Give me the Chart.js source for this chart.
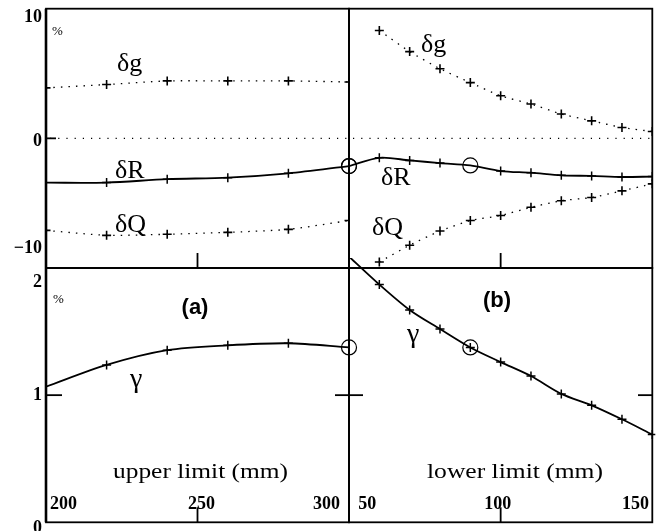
<!DOCTYPE html>
<html>
<head>
<meta charset="utf-8">
<script src="https://cdn.jsdelivr.net/npm/chart.js@4.4.1/dist/chart.umd.min.js"></script>
<style>
  html, body { margin: 0; padding: 0; background: #fff; }
  #wrap { position: relative; width: 661px; height: 531px; overflow: hidden; }
  #wrap canvas { position: absolute; left: 0; top: 0; }
</style>
</head>
<body>
<div id="wrap">
  <canvas id="tl" width="661" height="531"></canvas>
  <canvas id="tr" width="661" height="531"></canvas>
  <canvas id="bl" width="661" height="531"></canvas>
  <canvas id="br" width="661" height="531"></canvas>
</div>
<script>
// (a) upper limit scan, mm
const upperX = [200, 220, 240, 260, 280, 300];
const dgUpper = [3.89, 4.15, 4.43, 4.43, 4.43, 4.35];
const dRUpper = [-3.42, -3.41, -3.15, -3.03, -2.70, -2.14];
const dQUpper = [-7.10, -7.48, -7.40, -7.25, -7.02, -6.34];
const gammaUpper = [1.067, 1.238, 1.354, 1.392, 1.408, 1.375];

// (b) lower limit scan, mm
const lowerX = [40, 52, 64, 76, 88, 100, 112, 124, 136, 148, 160];
const dgLower = [null, 8.32, 6.69, 5.37, 4.30, 3.28, 2.65, 1.88, 1.35, 0.84, 0.53];
const dRLower = [-2.14, -1.50, -1.70, -1.91, -2.09, -2.52, -2.65, -2.85, -2.90, -2.98, -2.95];
const dQLower = [null, -9.54, -8.24, -7.15, -6.34, -5.95, -5.32, -4.81, -4.56, -4.05, -3.51];
const gammaLower = [2.09, 1.87, 1.67, 1.52, 1.375, 1.26, 1.15, 1.01, 0.92, 0.81, 0.69];

// chosen settings (circled points)
const upperChosen = [300];
const lowerChosen = [40, 88];

// axes
const upperRange = [200, 300];
const lowerRange = [40, 160];
const deltaRange = [-10, 10];
const gammaRange = [0, 2];
const upperTicks = ['200', '250', '300'];
const lowerTicks = ['50', '100', '150'];
const deltaTicks = ['10', '0', '-10'];
const gammaTicks = ['2', '1', '0'];

const W = 661, H = 531;
const L = 46, M = 349, R = 653, T = 6, MID = 268, B = 528;

const pts = (xs, ys) => xs.map((x, i) => ({ x, y: ys[i] }));
const pick = (xs, ys, keep) => pts(xs, ys).filter(p => keep.includes(p.x));

const SERIF = '"Liberation Serif", "DejaVu Serif", serif';

function solid(data, skip) {
  return {
    data, borderColor: '#000', borderWidth: 1.8, tension: 0.3, fill: false,
    pointStyle: 'cross', pointBorderColor: '#000', pointBorderWidth: 1.5,
    pointRadius: c => (skip.includes(c.dataIndex) ? 0 : 4.5),
  };
}
function dotted(data) {
  return {
    data, borderColor: '#000', borderWidth: 1.3, borderDash: [1.5, 6], tension: 0.2, fill: false,
    spanGaps: false, pointStyle: 'cross', pointBorderColor: '#000', pointBorderWidth: 1.6, pointRadius: 4.5,
  };
}
function rings(data) {
  return {
    data, showLine: false, pointStyle: 'circle', pointRadius: 7.5, pointBorderWidth: 1.2,
    pointBorderColor: '#000', pointBackgroundColor: 'rgba(0,0,0,0)', clip: false,
  };
}

function stretchText(ctx, str, x, y, width) {
  const w = ctx.measureText(str).width;
  ctx.save();
  ctx.translate(x, y);
  ctx.scale(width / w, 1);
  ctx.textAlign = 'left';
  ctx.fillText(str, 0, 0);
  ctx.restore();
}

// frame, ticks and text for one panel
function deco(cfg) {
  return {
    id: 'deco',
    afterDraw(chart) {
      const { ctx, chartArea: a, scales } = chart;
      ctx.save();
      ctx.strokeStyle = '#000';
      ctx.fillStyle = '#000';
      ctx.setLineDash([]);
      // frame
      ctx.lineWidth = 1.8;
      ctx.strokeRect(a.left, a.top, a.right - a.left, a.bottom - a.top);
      if (cfg.leftAxis) {
        ctx.lineWidth = 2.6;
        ctx.beginPath(); ctx.moveTo(a.left, a.top); ctx.lineTo(a.left, a.bottom); ctx.stroke();
      }
      if (cfg.zeroLine) {
        const y0 = scales.y.getPixelForValue(0);
        ctx.lineWidth = 1.2;
        ctx.setLineDash([1.2, 7]);
        ctx.beginPath(); ctx.moveTo(a.left + 4, y0); ctx.lineTo(a.right, y0); ctx.stroke();
        ctx.setLineDash([]);
      }
      ctx.lineWidth = 1.8;
      // x tick marks
      (cfg.xMarks || []).forEach(v => {
        const px = scales.x.getPixelForValue(v);
        ctx.beginPath(); ctx.moveTo(px, a.bottom); ctx.lineTo(px, a.bottom - 15); ctx.stroke();
      });
      // y tick marks
      (cfg.yMarks || []).forEach(m => {
        const py = scales.y.getPixelForValue(m.v);
        ctx.beginPath(); ctx.moveTo(m.x0, py); ctx.lineTo(m.x1, py); ctx.stroke();
      });
      // tick labels
      ctx.font = 'bold 18px ' + SERIF;
      ctx.textBaseline = 'middle';
      (cfg.xLabels || []).forEach(lb => {
        const px = scales.x.getPixelForValue(+lb.t);
        ctx.textAlign = lb.align || 'center';
        ctx.fillText(lb.t, px + lb.dx, 504);
      });
      (cfg.yLabels || []).forEach(lb => {
        const py = scales.y.getPixelForValue(+lb.t);
        ctx.textAlign = 'right';
        ctx.fillText(lb.t.replace('-', '\u2212'), 42, py + lb.dy);
      });
      // free text
      ctx.textBaseline = 'alphabetic';
      (cfg.texts || []).forEach(tx => {
        ctx.font = tx.font;
        if (tx.w) {
          stretchText(ctx, tx.t, tx.x, tx.y, tx.w);
        } else {
          ctx.textAlign = tx.align || 'left';
          ctx.fillText(tx.t, tx.x, tx.y);
        }
      });
      ctx.restore();
    }
  };
}

function panel(id, box, xr, yr, datasets, cfg) {
  return new Chart(document.getElementById(id), {
    type: 'line',
    data: { datasets },
    options: {
      responsive: false, animation: false, events: [],
      layout: { padding: { left: box[0], top: box[1], right: W - box[2], bottom: H - box[3] } },
      plugins: { legend: { display: false }, tooltip: { enabled: false } },
      scales: {
        x: { type: 'linear', display: false, min: xr[0], max: xr[1] },
        y: { type: 'linear', display: false, min: yr[0], max: yr[1] },
      },
    },
    plugins: [deco(cfg)],
  });
}

const big = '26px ' + SERIF;

panel('tl', [L, T, M, MID], upperRange, deltaRange, [
  dotted(pts(upperX, dgUpper)),
  solid(pts(upperX, dRUpper), [0, upperX.length - 1]),
  dotted(pts(upperX, dQUpper)),
  rings(pick(upperX, dRUpper, upperChosen)),
], {
  leftAxis: true, zeroLine: true,
  xMarks: [250],
  yMarks: [{ v: 0, x0: L, x1: L + 10 }],
  yLabels: [
    { t: deltaTicks[0], dy: 9 },
    { t: deltaTicks[1], dy: 3 },
    { t: deltaTicks[2], dy: -20 },
  ],
  texts: [
    { t: '%', x: 52, y: 35, font: '13px ' + SERIF },
    { t: 'δg', x: 117, y: 71, font: big },
    { t: 'δR', x: 115, y: 178, font: big },
    { t: 'δQ', x: 115, y: 232, font: big },
  ],
});

panel('tr', [M, T, R, MID], lowerRange, deltaRange, [
  dotted(pts(lowerX, dgLower)),
  solid(pts(lowerX, dRLower), [0, 4]),
  dotted(pts(lowerX, dQLower)),
  rings(pick(lowerX, dRLower, lowerChosen)),
], {
  zeroLine: true,
  xMarks: [100],
  texts: [
    { t: 'δg', x: 421, y: 52, font: big },
    { t: 'δR', x: 381, y: 185, font: big },
    { t: 'δQ', x: 372, y: 235, font: big },
  ],
});

panel('bl', [L, MID, M, B], upperRange, gammaRange, [
  solid(pts(upperX, gammaUpper), [0, upperX.length - 1]),
  rings(pick(upperX, gammaUpper, upperChosen)),
], {
  leftAxis: true,
  xMarks: [250],
  yMarks: [{ v: 1, x0: L, x1: L + 16 }, { v: 1, x0: M - 14, x1: M }],
  xLabels: [
    { t: upperTicks[0], dx: 4, align: 'left' },
    { t: upperTicks[1], dx: 4 },
    { t: upperTicks[2], dx: -9, align: 'right' },
  ],
  yLabels: [
    { t: gammaTicks[0], dy: 14 },
    { t: gammaTicks[1], dy: 0 },
    { t: gammaTicks[2], dy: 6 },
  ],
  texts: [
    { t: '%', x: 53, y: 303, font: '13px ' + SERIF },
    { t: '(a)', x: 195, y: 314, font: 'bold 22px "Liberation Sans", Arial, sans-serif', align: 'center' },
    { t: 'γ', x: 130, y: 387, font: '28px ' + SERIF },
    { t: 'upper limit (mm)', x: 113, y: 478, font: '21px ' + SERIF, w: 175 },
  ],
});

const brSet = solid(pts(lowerX, gammaLower), [0]);
brSet.clip = { left: 0, top: 10, right: 3, bottom: 0 };
panel('br', [M, MID, R, B], lowerRange, gammaRange, [
  brSet,
  rings(pick(lowerX, gammaLower, [lowerChosen[1]])),
], {
  xMarks: [100],
  yMarks: [{ v: 1, x0: M, x1: M + 14 }, { v: 1, x0: R - 15, x1: R }],
  xLabels: [
    { t: lowerTicks[0], dx: -16, align: 'left' },
    { t: lowerTicks[1], dx: -3 },
    { t: lowerTicks[2], dx: 22, align: 'right' },
  ],
  texts: [
    { t: '(b)', x: 497, y: 307, font: 'bold 22px "Liberation Sans", Arial, sans-serif', align: 'center' },
    { t: 'γ', x: 407, y: 342, font: '28px ' + SERIF },
    { t: 'lower limit (mm)', x: 427, y: 478, font: '21px ' + SERIF, w: 176 },
  ],
});
</script>
</body>
</html>
